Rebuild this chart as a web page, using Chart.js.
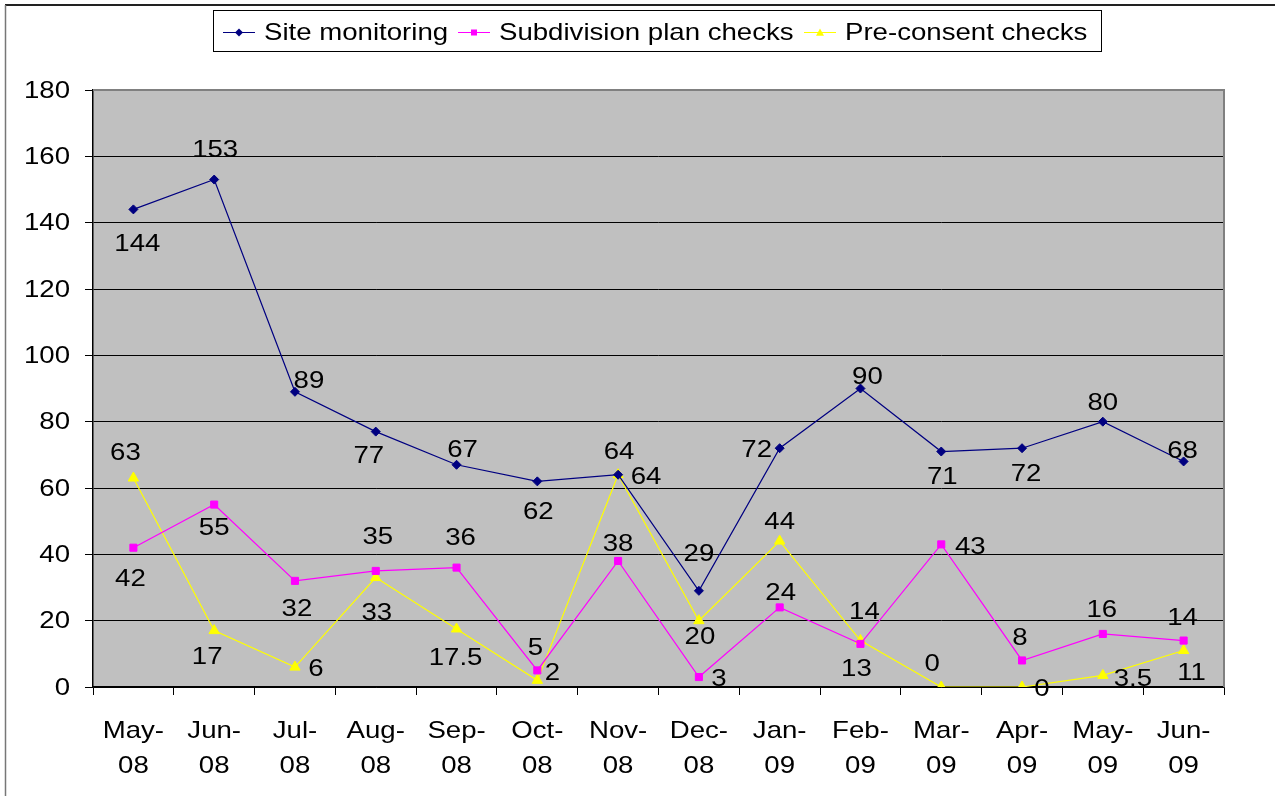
<!DOCTYPE html>
<html>
<head>
<meta charset="utf-8">
<script src="https://cdn.jsdelivr.net/npm/chart.js@4/dist/chart.umd.min.js"></script>
<style>
html,body{margin:0;padding:0;background:#fff;}
canvas{display:block;}
</style>
</head>
<body>
<canvas id="c" width="1275" height="796"></canvas>
<script>
// ---- data ----
const categories = [['May-','08'],['Jun-','08'],['Jul-','08'],['Aug-','08'],['Sep-','08'],['Oct-','08'],['Nov-','08'],['Dec-','08'],['Jan-','09'],['Feb-','09'],['Mar-','09'],['Apr-','09'],['May-','09'],['Jun-','09']];
const seriesNames = ['Site monitoring','Subdivision plan checks','Pre-consent checks'];
const siteMonitoring = [144,153,89,77,67,62,64,29,72,90,71,72,80,68];
const subdivisionChecks = [42,55,32,35,36,5,38,3,24,13,43,8,16,14];
const preConsentChecks = [63,17,6,33,17.5,2,64,20,44,14,0,0,3.5,11];
const yMin = 0, yMax = 180, yStep = 20;

// ---- label placement (offsets from each point, px) ----
const siteLabelOffsets = [[4,34],[1,-30],[14,-11],[-7,24],[6,-15],[1,30],[1,-23],[0,-37],[-23,1],[7,-12],[1,25],[4,25],[0,-19],[-1,-11]];
const subLabelOffsets = [[-3,31],[0,23],[2,28],[2,-35],[4,-30],[-2,-23],[0,-18],[20,1],[1,-15],[-4,24],[29,2],[-2,-23],[-1,-25],[-1,-23]];
const preLabelOffsets = [[-8,-26],[-7,26],[21,1],[1,35],[-1,28],[15,-8],[28,2],[1,16],[0,-20],[4,-29],[-9,-24],[20,1],[30,3],[8,22]];
const labelOffsets = [siteLabelOffsets, subLabelOffsets, preLabelOffsets];

const FONT = '"Liberation Sans", Arial, sans-serif';
const FONT_SIZE = 24;
const STRETCH = 1.15;

function sText(ctx, text, x, y, align, baseline) {
  ctx.save();
  ctx.translate(x, y);
  ctx.scale(STRETCH, 1);
  ctx.textAlign = align || 'center';
  ctx.textBaseline = baseline || 'middle';
  ctx.fillText(text, 0, 0);
  ctx.restore();
}

const bgPlugin = {
  id: 'bgPlugin',
  beforeDraw(chart) {
    const {ctx, chartArea: a} = chart;
    ctx.save();
    ctx.fillStyle = '#fff';
    ctx.fillRect(0, 0, chart.width, chart.height);
    ctx.fillStyle = '#C0C0C0';
    ctx.fillRect(a.left, a.top, a.right - a.left, a.bottom - a.top);
    ctx.strokeStyle = '#222';
    ctx.lineWidth = 2;
    ctx.beginPath();
    ctx.moveTo(5, 5); ctx.lineTo(chart.width, 5);
    ctx.stroke();
    ctx.strokeStyle = '#777';
    ctx.lineWidth = 1.5;
    ctx.beginPath();
    ctx.moveTo(5.5, 5); ctx.lineTo(5.5, chart.height);
    ctx.stroke();
    ctx.restore();
  },
  beforeDatasetsDraw(chart) {
    const {ctx, chartArea: a} = chart;
    ctx.save();
    ctx.strokeStyle = '#808080';
    ctx.lineWidth = 2;
    ctx.beginPath();
    ctx.moveTo(a.left, a.top); ctx.lineTo(a.right, a.top); ctx.lineTo(a.right, a.bottom);
    ctx.stroke();
    ctx.restore();
  }
};

// draws the axis tick labels (text taken from the scales) with the stretched face
const tickTextPlugin = {
  id: 'tickText',
  afterDraw(chart) {
    const ctx = chart.ctx;
    const xs = chart.scales.x, ys = chart.scales.y;
    ctx.save();
    ctx.font = FONT_SIZE + 'px ' + FONT;
    ctx.fillStyle = '#000';
    ys.ticks.forEach(t => {
      sText(ctx, String(t.value), ys.right - 23, ys.getPixelForValue(t.value) + 1, 'right');
    });
    chart.data.labels.forEach((lab, i) => {
      const x = xs.getPixelForValue(i);
      const lines = Array.isArray(lab) ? lab : [lab];
      lines.forEach((ln, k) => sText(ctx, ln, x, xs.top + 44 + k * 35, 'center'));
    });
    ctx.restore();
  }
};

function drawMarker(ctx, style, x, y, r, color) {
  ctx.fillStyle = color;
  ctx.beginPath();
  if (style === 'rectRot') {
    ctx.moveTo(x - r, y); ctx.lineTo(x, y - r); ctx.lineTo(x + r, y); ctx.lineTo(x, y + r);
  } else if (style === 'rect') {
    ctx.rect(x - r, y - r, 2 * r, 2 * r);
  } else {
    ctx.moveTo(x, y - r); ctx.lineTo(x + r, y + r * 0.8); ctx.lineTo(x - r, y + r * 0.8);
  }
  ctx.closePath();
  ctx.fill();
}

const legendPlugin = {
  id: 'boxLegend',
  afterDraw(chart) {
    const ctx = chart.ctx;
    ctx.save();
    ctx.fillStyle = '#fff';
    ctx.fillRect(213, 10, 888, 41);
    ctx.strokeStyle = '#000';
    ctx.lineWidth = 1;
    ctx.strokeRect(213.5, 10.5, 888, 41);
    const starts = [223, 458, 804];
    const cy = 32;
    ctx.font = FONT_SIZE + 'px ' + FONT;
    chart.data.datasets.forEach((ds, i) => {
      const x0 = starts[i];
      ctx.strokeStyle = ds.borderColor;
      ctx.lineWidth = 1;
      ctx.beginPath();
      ctx.moveTo(x0, cy + 0.5); ctx.lineTo(x0 + 32, cy + 0.5);
      ctx.stroke();
      drawMarker(ctx, ds.pointStyle, x0 + 16, cy + 0.5, ds.pointStyle === 'rect' ? 3 : 4, ds.borderColor);
      ctx.fillStyle = '#000';
      sText(ctx, ds.label, x0 + 41, cy + 1, 'left');
    });
    ctx.restore();
  }
};

const valueLabelPlugin = {
  id: 'valueLabels',
  afterDatasetsDraw(chart) {
    const ctx = chart.ctx;
    ctx.save();
    ctx.font = FONT_SIZE + 'px ' + FONT;
    ctx.fillStyle = '#000';
    chart.data.datasets.forEach((ds, i) => {
      const meta = chart.getDatasetMeta(i);
      meta.data.forEach((pt, j) => {
        const off = labelOffsets[i][j];
        sText(ctx, String(ds.data[j]), pt.x + off[0], pt.y + off[1] + 1, 'center');
      });
    });
    ctx.restore();
  }
};

const mk = (label, data, color, style, radius) => ({
  label, data,
  borderColor: color, backgroundColor: color,
  borderWidth: 1.2,
  pointStyle: style, pointRadius: radius, pointHoverRadius: radius,
  pointBackgroundColor: color, pointBorderColor: color, pointBorderWidth: 1,
  tension: 0, fill: false
});

new Chart(document.getElementById('c'), {
  type: 'line',
  data: {
    labels: categories,
    datasets: [
      mk(seriesNames[0], siteMonitoring, '#000080', 'rectRot', 4.5),
      mk(seriesNames[1], subdivisionChecks, '#FF00FF', 'rect', 5),
      mk(seriesNames[2], preConsentChecks, '#FFFF00', 'triangle', 6)
    ]
  },
  options: {
    responsive: false,
    animation: false,
    devicePixelRatio: 1,
    layout: { padding: { top: 90, right: 51, left: 0, bottom: 0 } },
    plugins: { legend: { display: false }, tooltip: { enabled: false } },
    scales: {
      x: {
        offset: true,
        grid: { offset: true, drawOnChartArea: false, color: '#000', tickLength: 8, lineWidth: 1 },
        border: { color: '#000', width: 1.5 },
        ticks: { color: 'rgba(0,0,0,0)', font: { family: FONT, size: FONT_SIZE, lineHeight: 1.45 }, padding: 18, maxRotation: 0, autoSkip: false },
        afterFit(s) { s.height = 796 - 687; }
      },
      y: {
        min: yMin, max: yMax,
        grid: { color: '#000', lineWidth: 1, tickLength: 8 },
        border: { color: '#000', width: 1.5 },
        ticks: { stepSize: yStep, color: 'rgba(0,0,0,0)', font: { family: FONT, size: FONT_SIZE }, padding: 15 },
        afterFit(s) { s.width = 93; }
      }
    }
  },
  plugins: [bgPlugin, legendPlugin, valueLabelPlugin, tickTextPlugin]
});
</script>
</body>
</html>
